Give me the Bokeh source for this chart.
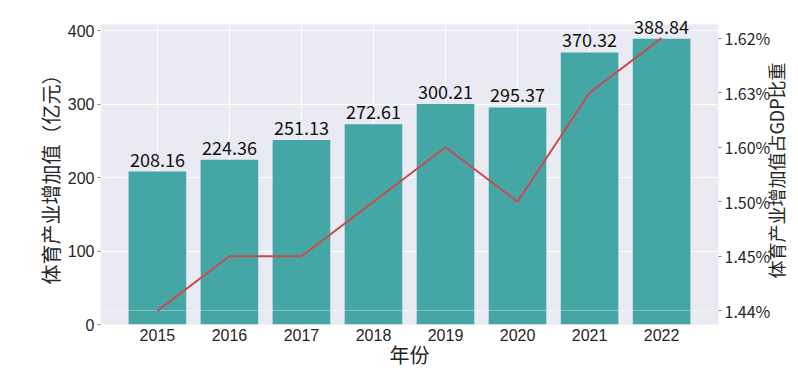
import math
from bokeh.plotting import figure
from bokeh.models import Range1d, LinearAxis, FixedTicker, Grid, ColumnDataSource, Label
from bokeh.core.properties import value
from bokeh.embed import file_html
from bokeh.resources import INLINE

years = ["2015", "2016", "2017", "2018", "2019", "2020", "2021", "2022"]
added_value = [208.16, 224.36, 251.13, 272.61, 300.21, 295.37, 370.32, 388.84]
gdp_share = ["1.44%", "1.45%", "1.45%", "1.50%", "1.60%", "1.50%", "1.63%", "1.62%"]
left_ticks = [0, 100, 200, 300, 400]

# categorical share axis: categories in order of first appearance
share_cats = []
for s in gdp_share:
    if s not in share_cats:
        share_cats.append(s)
share_idx = [share_cats.index(s) for s in gdp_share]

xs = list(range(len(years)))
n = len(years)
ymax = max(added_value) * 1.05

CJK = "Noto Sans CJK SC"
SANS = "Liberation Sans"
BG = "#EAEAF2"
TXT = "#262626"

FW, FH = 618, 300
p = figure(frame_width=FW, frame_height=FH, output_backend="svg", toolbar_location=None,
           x_range=Range1d(-0.4 - 0.05 * (n - 0.2), n - 1 + 0.4 + 0.05 * (n - 0.2)),
           y_range=Range1d(0, ymax),
           min_border_left=100, min_border_right=80, min_border_top=24, min_border_bottom=10)
p.background_fill_color = BG
p.border_fill_color = "white"
p.outline_line_color = None

p.extra_y_ranges = {"pct": Range1d(-0.25, len(share_cats) - 1 + 0.25)}

src = ColumnDataSource(dict(x=xs, v=added_value, lab=[f"{v:.2f}" for v in added_value], s=share_idx))

p.vbar(x="x", top="v", width=0.8, source=src, color="#45A6A6", line_color=None)

# overlay grid for right axis
g2 = Grid(dimension=1, y_range_name="pct", ticker=FixedTicker(ticks=list(range(len(share_cats)))),
          grid_line_color="white", grid_line_alpha=0.35, grid_line_width=1, level="guide")
p.add_layout(g2)

ln = p.line(x="x", y="s", source=src, y_range_name="pct", line_color="#C94A4C", line_width=2)
ln.level = "annotation"

lbl = p.text(x="x", y="v", text="lab", source=src, text_align="center", text_baseline="bottom",
             y_offset=-5, text_font=value(CJK), text_font_size="18px", text_color="#111111")
lbl.level = "annotation"

# axes styling
p.xaxis.ticker = FixedTicker(ticks=xs)
p.xaxis.major_label_overrides = {i: y for i, y in enumerate(years)}
p.xaxis.axis_label = "年份"
p.yaxis.ticker = FixedTicker(ticks=left_ticks)
p.yaxis.axis_label = "体育产业增加值（亿元）"

right = LinearAxis(y_range_name="pct", ticker=FixedTicker(ticks=list(range(len(share_cats)))),
                   major_label_overrides={i: c for i, c in enumerate(share_cats)})
p.add_layout(right, "right")

for ax in [p.xaxis[0], p.yaxis[0], right]:
    ax.axis_line_color = None
    ax.minor_tick_line_color = None
    ax.major_tick_in = 0
    ax.major_tick_out = 3
    ax.major_tick_line_color = "#888888"
    ax.major_label_text_color = TXT
    ax.axis_label_text_color = TXT
    ax.axis_label_text_font = CJK
    ax.axis_label_text_font_style = "normal"
    ax.axis_label_text_font_size = "20px"
    ax.major_label_text_font_size = "16px"
    ax.major_label_standoff = 3
    ax.axis_label_standoff = 0

p.xaxis.major_tick_line_color = None
p.xaxis.major_label_text_font = SANS
p.yaxis.major_label_text_font = SANS
right.major_label_text_font = CJK
right.major_label_text_font_size = "16px"
p.xaxis.axis_label_standoff = -4
p.xaxis.major_label_standoff = 1

# right-hand axis title, reading bottom to top, in its own side panel
rlab = Label(x=2, y=FH / 2 + 4, x_units="screen", y_units="screen",
             text="体育产业增加值占GDP比重", angle=math.pi / 2,
             text_align="center", text_baseline="middle",
             text_font=CJK, text_font_size="18px", text_color=TXT)
p.add_layout(rlab, "right")

p.xgrid.ticker = FixedTicker(ticks=xs)
p.ygrid.ticker = FixedTicker(ticks=left_ticks)
p.grid.grid_line_color = "white"
p.grid.grid_line_width = 1

open("out.html", "w").write(file_html(p, INLINE))
